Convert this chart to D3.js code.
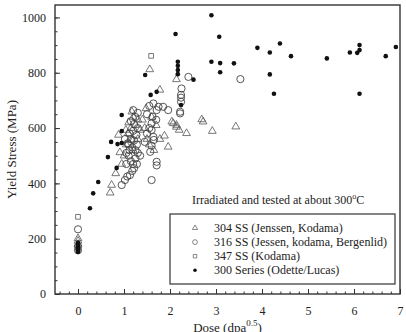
<!DOCTYPE html>
<html>
<head>
<meta charset="utf-8">
<script src="https://cdn.jsdelivr.net/npm/d3@7"></script>
<style>
	body { margin: 0; background: #fff; }
	svg text { font-family: "Liberation Serif", "DejaVu Serif", serif; fill: #222; }
</style>
</head>
<body>
<div id="chart"></div>
<script>
	// 304 SS (Jenssen, Kodama) - [dose, yield stress]
	const ss304 = [
		[0, 201], [0, 192], [0, 180],
		[0.70, 366], [0.73, 394], [0.82, 436], [0.88, 575], [0.91, 512], [1.04, 593], [1.09, 581],
		[1.17, 659], [1.17, 557], [1.30, 630], [1.35, 593], [1.48, 671], [1.56, 812], [1.78, 738],
		[1.78, 560], [1.88, 572], [1.96, 532], [2.04, 623], [2.07, 617], [2.14, 611], [2.14, 604],
		[2.20, 593], [2.36, 581], [2.14, 776], [2.69, 631], [2.72, 623], [2.92, 589], [3.43, 605],
		[1.00, 500], [1.05, 540], [1.10, 620], [1.15, 600], [1.20, 640], [1.25, 610], [0.95, 470],
		[1.20, 520], [1.30, 560], [1.40, 630], [1.45, 600], [1.50, 560], [1.55, 540], [1.65, 520],
		[1.60, 640], [1.70, 610]
	];
	// 316 SS (Jessen, kodama, Bergenlid)
	const ss316 = [
		[0, 234], [0, 172], [0, 158],
		[0.95, 394], [1.02, 412], [1.07, 425], [1.13, 430], [1.18, 445], [1.20, 470], [1.22, 455],
		[1.25, 490], [1.15, 480], [1.10, 500], [1.05, 510], [1.12, 520], [1.18, 530], [1.25, 520],
		[1.28, 540], [1.22, 555], [1.15, 560], [1.08, 545], [1.02, 560], [1.12, 580], [1.20, 590],
		[1.27, 575], [1.30, 600], [1.22, 615], [1.15, 625], [1.25, 640], [1.30, 655], [1.20, 665],
		[1.10, 540], [1.30, 510], [1.05, 470], [1.28, 470], [1.35, 500],
		[1.60, 412], [1.71, 465], [1.71, 478], [1.57, 514], [1.60, 536], [1.65, 557], [1.64, 568],
		[1.60, 593], [1.55, 600], [1.60, 617], [1.62, 641], [1.71, 665], [1.64, 689], [1.50, 580],
		[1.45, 550], [1.50, 650], [1.55, 680], [1.70, 630], [1.75, 677],
		[1.85, 677], [1.96, 665], [2.22, 653], [2.22, 659], [2.24, 695], [2.24, 710], [2.24, 720],
		[2.25, 743], [2.40, 785], [3.53, 777]
	];
	// 347 SS (Kodama)
	const ss347 = [[0, 279], [0, 162], [1.59, 861]];
	// 300 Series (Odette/Lucas)
	const series300 = [
		[0, 185], [0, 176], [0, 168], [0, 160], [0, 152],
		[0.26, 310], [0.33, 364], [0.44, 405], [0.65, 495], [0.72, 550], [0.84, 456], [0.86, 542],
		[0.95, 546], [0.95, 589], [0.95, 647], [1.46, 792], [1.58, 720], [1.71, 731], [2.12, 940],
		[2.17, 840], [2.17, 825], [2.17, 810], [2.17, 795], [2.24, 683], [2.51, 775],
		[2.90, 1008], [3.07, 930], [2.90, 840], [3.09, 835], [3.09, 802], [3.39, 834], [3.90, 890],
		[4.17, 873], [4.17, 794], [4.26, 724], [4.39, 906], [4.63, 860], [5.41, 852], [5.91, 873],
		[6.07, 872], [6.12, 900], [6.12, 882], [6.12, 724], [6.69, 860], [6.91, 893]
	];
	const xTickLabels = [0, 1, 2, 3, 4, 5, 6, 7];
	const yTickLabels = [0, 200, 400, 600, 800, 1000];
	const legendLabels = [
		"304 SS (Jenssen, Kodama)",
		"316 SS (Jessen, kodama, Bergenlid)",
		"347 SS (Kodama)",
		"300 Series (Odette/Lucas)"
	];

	const width = 406, height = 332;
	const margin = { top: 5, right: 6, bottom: 38, left: 55 };
	const innerWidth = width - margin.left - margin.right;
	const innerHeight = height - margin.top - margin.bottom;
	const serif = "Liberation Serif, DejaVu Serif, serif";

	const svg = d3.select("#chart").append("svg")
		.attr("width", width).attr("height", height);
	const g = svg.append("g")
		.attr("transform", `translate(${margin.left},${margin.top})`);

	const xScale = d3.scaleLinear().domain([-0.5, 7]).range([0, innerWidth]);
	const yScale = d3.scaleLinear().domain([0, 1045]).range([innerHeight, 0]);

	const ink = "#333";

	// minor ticks (no labels), then major ticks with labels; all pointing inward
	const xAxisG = g.append("g").attr("transform", `translate(0,${innerHeight})`);
	xAxisG.call(d3.axisBottom(xScale).tickValues(d3.range(-0.4, 7.01, 0.2)).tickSize(-2.5).tickFormat(""));
	xAxisG.selectAll("text").remove();
	xAxisG.append("g").call(d3.axisBottom(xScale).tickValues(xTickLabels).tickSize(-5).tickPadding(12)
		.tickFormat(d3.format("d")));
	xAxisG.selectAll(".domain").remove();

	const yAxisG = g.append("g");
	yAxisG.call(d3.axisLeft(yScale).tickValues(d3.range(50, 1001, 50)).tickSize(-2.5).tickFormat(""));
	yAxisG.selectAll("text").remove();
	yAxisG.append("g").call(d3.axisLeft(yScale).tickValues(yTickLabels).tickSize(-5).tickPadding(9)
		.tickFormat(d3.format("d")));
	yAxisG.selectAll(".domain").remove();

	[xAxisG, yAxisG].forEach(a => {
		a.selectAll("g").attr("font-family", serif);
		a.attr("font-family", serif);
		a.selectAll("line").attr("stroke", ink);
		a.selectAll("text").attr("font-size", 12).attr("fill", "#222").attr("font-family", serif);
	});

	// frame
	g.append("rect")
		.attr("width", innerWidth).attr("height", innerHeight)
		.attr("fill", "none").attr("stroke", ink).attr("stroke-width", 1.4);

	// axis titles
	const xTitle = svg.append("text")
		.attr("x", margin.left + innerWidth / 2).attr("y", 332)
		.attr("text-anchor", "middle").attr("font-size", 13);
	xTitle.append("tspan").text("Dose (dpa");
	xTitle.append("tspan").attr("font-size", 9).attr("dy", -6).text("0.5");
	xTitle.append("tspan").attr("dy", 6).text(")");

	svg.append("text")
		.attr("transform", `translate(16,${margin.top + innerHeight / 2}) rotate(-90)`)
		.attr("text-anchor", "middle").attr("font-size", 13)
		.text("Yield Stress (MPa)");

	// marks
	const tri = d3.symbol().type(d3.symbolTriangle).size(26);
	const sq = d3.symbol().type(d3.symbolSquare).size(22);

	g.selectAll(".s304").data(ss304).enter().append("path")
		.attr("class", "s304")
		.attr("d", tri)
		.attr("transform", d => `translate(${xScale(d[0])},${yScale(d[1])})`)
		.attr("fill", "none").attr("stroke", "#555").attr("stroke-width", 0.8);

	g.selectAll(".s316").data(ss316).enter().append("circle")
		.attr("class", "s316")
		.attr("cx", d => xScale(d[0])).attr("cy", d => yScale(d[1]))
		.attr("r", 3.6)
		.attr("fill", "none").attr("stroke", "#444").attr("stroke-width", 0.9);

	g.selectAll(".s347").data(ss347).enter().append("path")
		.attr("class", "s347")
		.attr("d", sq)
		.attr("transform", d => `translate(${xScale(d[0])},${yScale(d[1])})`)
		.attr("fill", "none").attr("stroke", "#555").attr("stroke-width", 0.8);

	g.selectAll(".s300").data(series300).enter().append("circle")
		.attr("class", "s300")
		.attr("cx", d => xScale(d[0])).attr("cy", d => yScale(d[1]))
		.attr("r", 2.3)
		.attr("fill", "#111");

	// annotation
	const note = svg.append("text")
		.attr("x", 192).attr("y", 204).attr("font-size", 12);
	note.append("tspan").text("Irradiated and tested at about 300");
	note.append("tspan").attr("font-size", 8).attr("dy", -5).text("o");
	note.append("tspan").attr("dy", 5).text("C");

	// legend
	const legend = svg.append("g").attr("transform", "translate(170,214)");
	legend.append("rect")
		.attr("width", 225).attr("height", 70)
		.attr("fill", "#fff").attr("stroke", ink).attr("stroke-width", 1.2);
	const rowY = i => 14 + i * 14.1;
	const legendRows = legend.selectAll(".row").data(legendLabels).enter().append("g")
		.attr("transform", (d, i) => `translate(0,${rowY(i)})`);
	legendRows.append("text")
		.attr("x", 44).attr("y", 4).attr("font-size", 12)
		.text(d => d);
	legendRows.each(function (d, i) {
		const r = d3.select(this);
		if (i === 0) r.append("path").attr("d", d3.symbol().type(d3.symbolTriangle).size(12))
			.attr("transform", "translate(25,0)").attr("fill", "none").attr("stroke", "#555").attr("stroke-width", 0.7);
		if (i === 1) r.append("circle").attr("cx", 25).attr("r", 2.4)
			.attr("fill", "none").attr("stroke", "#555").attr("stroke-width", 0.7);
		if (i === 2) r.append("path").attr("d", d3.symbol().type(d3.symbolSquare).size(12))
			.attr("transform", "translate(25,0)").attr("fill", "none").attr("stroke", "#555").attr("stroke-width", 0.7);
		if (i === 3) r.append("circle").attr("cx", 25).attr("r", 1.8).attr("fill", "#111");
	});
</script>
</body>
</html>
